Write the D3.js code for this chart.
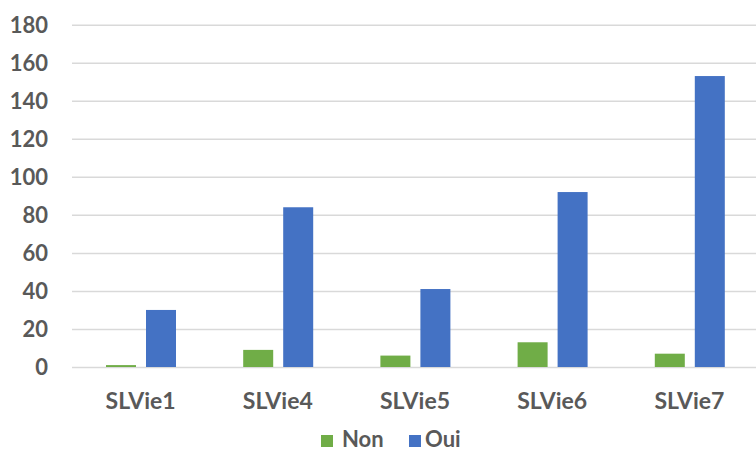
<!DOCTYPE html>
<html><head><meta charset="utf-8">
<script src="https://cdn.jsdelivr.net/npm/d3@7/dist/d3.min.js"></script>
<style>body{margin:0;background:#fff}svg{display:block}text{font-family:Lato,"Open Sans",sans-serif;font-weight:bold;fill:#595959}</style>
</head><body><svg id="c" width="756" height="452"></svg>
<script>
const categories = ["SLVie1","SLVie4","SLVie5","SLVie6","SLVie7"];
const seriesNames = ["Non","Oui"];
const nonValues = [1, 9, 6, 13, 7];
const ouiValues = [30, 84, 41, 92, 153];
const yTicks = [0,20,40,60,80,100,120,140,160,180];
const colors = ["#70AD47","#4472C4"];

const svg = d3.select("#c");
const mLeft = 72, mRight = 758, mTop = 24.7, mBottom = 367;
const x = d3.scaleBand().domain(categories).range([mLeft, mRight]).paddingInner(0).paddingOuter(0);
const y = d3.scaleLinear().domain([0,180]).range([mBottom, mTop]);
const xs = d3.scaleBand().domain(seriesNames).range([34, 104]).paddingInner(0.25);

// grid
const yAxis = d3.axisLeft(y).tickValues(yTicks).tickSize(-(mRight-mLeft)).tickFormat(d3.format("d"));
const g = svg.append("g").attr("transform",`translate(${mLeft},0)`).call(yAxis);
g.select(".domain").remove();
g.selectAll(".tick line").attr("stroke","#D9D9D9").attr("stroke-width",1.5);
g.selectAll(".tick text").attr("x",-24).attr("dy","0.35em").style("font-size","22px").attr("fill","#595959");

const data = categories.map((c,i)=>({c, vals:[{s:"Non",v:nonValues[i]},{s:"Oui",v:ouiValues[i]}]}));
const grp = svg.append("g").selectAll("g").data(data).join("g").attr("transform",d=>`translate(${x(d.c)},0)`);
grp.selectAll("rect").data(d=>d.vals).join("rect")
  .attr("x",d=>xs(d.s)).attr("width",xs.bandwidth())
  .attr("y",d=>y(d.v)).attr("height",d=>y(0)-y(d.v))
  .attr("fill",(d,i)=>colors[i]);

// x labels
const xAxis = d3.axisBottom(x).tickSize(0);
const gx = svg.append("g").attr("transform",`translate(0,${mBottom})`).call(xAxis);
gx.select(".domain").remove();
gx.selectAll(".tick text").attr("y",34).attr("dy","0.35em").style("font-size","23px").attr("fill","#595959");

// legend
const leg = svg.append("g");
const legItems = [{sx:321,tx:342},{sx:409,tx:425}];
legItems.forEach((d,i)=>{
  leg.append("rect").attr("x",d.sx).attr("y",435).attr("width",12).attr("height",12).attr("fill",colors[i]);
  leg.append("text").attr("x",d.tx).attr("y",447).style("font-size","22px").text(seriesNames[i]);
});
</script></body></html>
